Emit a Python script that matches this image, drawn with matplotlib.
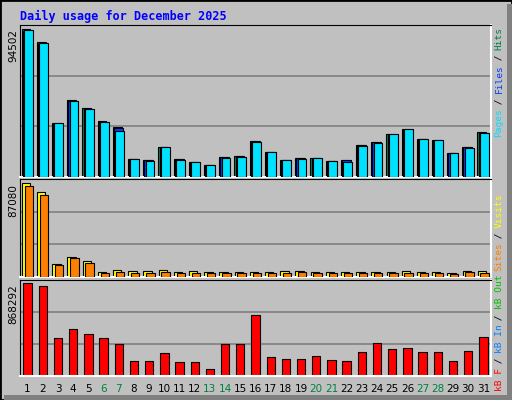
import matplotlib
matplotlib.use("Agg")
import matplotlib.pyplot as plt
import numpy as np
from matplotlib.patches import Rectangle

days = list(range(1, 32))
weekend = [6, 7, 13, 14, 20, 21, 27, 28]
hits = [94502, 86200, 34500, 49200, 44100, 35800, 32000, 11500, 10900, 19200, 11500, 9600, 7700, 12800, 13400,
        23000, 16000, 10900, 12200, 12200, 10200, 10900, 20500, 22400, 27500, 30700, 24300, 23600, 15300, 19200, 28700]
files = [h * 0.985 for h in hits]
pages = [93800, 85500, 34200, 48500, 43500, 35000, 29500, 11300, 10000, 19000, 10800, 9400, 7500, 12300, 13000,
         22500, 15700, 10700, 11800, 11900, 9900, 9800, 19800, 22000, 27200, 30500, 24000, 23400, 15000, 18500, 28300]
visits = [87080, 78300, 11900, 18700, 15000, 5000, 6500, 5600, 5600, 6500, 4700, 5600, 4700, 4700, 4700,
          4700, 4700, 5600, 5900, 4700, 4700, 4700, 4700, 4700, 4700, 5600, 4700, 4700, 3700, 5600, 5600]
sites = [84200, 75800, 10900, 17500, 12800, 3700, 4700, 3300, 3300, 5000, 3300, 3300, 3300, 3300, 3300,
         3300, 3300, 3300, 4400, 3300, 3300, 3300, 3300, 3300, 3300, 3300, 3300, 3300, 2400, 4400, 3300]
kbytes = [868292, 848400, 354600, 440000, 392700, 354600, 297700, 136400, 136400, 212200, 126700, 126700, 69700,
          297700, 297700, 573400, 174200, 155300, 155300, 183700, 145900, 136400, 221700, 307200, 250300, 259800,
          221700, 221700, 136400, 231200, 364100]

W, H = 512, 400
fig = plt.figure(figsize=(W / 100, H / 100), dpi=100)
fig.patch.set_facecolor("#C0C0C0")

def px(x0, y0, x1, y1):
    return [x0 / W, 1 - y1 / H, (x1 - x0) / W, (y1 - y0) / H]

fig.add_artist(Rectangle((0, 0), 1, 1, transform=fig.transFigure, fill=False, ec="black", lw=2))
fig.add_artist(Rectangle((4 / W, 0), (W - 4) / W, 5 / H, transform=fig.transFigure, fc="#808080", ec="none"))
fig.add_artist(Rectangle(((W - 5) / W, 0), 5 / W, (H - 4) / H, transform=fig.transFigure, fc="#808080", ec="none"))

fig.text(20 / W, 1 - 16 / H, "Daily usage for December 2025", color="#0000FF", fontsize=8.5,
         family="DejaVu Sans Mono", weight="bold", va="center", ha="left")

x = np.arange(1, 32)

def setup(ax, top):
    ax.set_facecolor("#C0C0C0")
    ax.set_xlim(0.5, 31.5)
    ax.set_ylim(0, top)
    for v in (top / 3, 2 * top / 3):
        ax.axhline(v, color="#808080", lw=1.2, zorder=0)
    ax.set_xticks([])
    ax.set_yticks([])
    for s in ("left", "top"):
        ax.spines[s].set_color("black")
    for s in ("right", "bottom"):
        ax.spines[s].set_color("white")
        ax.spines[s].set_linewidth(1.5)

ax1 = fig.add_axes(px(20, 25, 491, 177))
setup(ax1, 97000)
ax1.bar(x - 0.1, hits, 0.58, color="#00805C", ec="black", lw=0.8, zorder=2)
ax1.bar(x - 0.02, files, 0.58, color="#0040FF", ec="black", lw=0.8, zorder=3)
ax1.bar(x + 0.06, pages, 0.58, color="#00E0FF", ec="black", lw=0.8, zorder=4)

ax2 = fig.add_axes(px(20, 179, 491, 277))
setup(ax2, 90800)
ax2.bar(x - 0.1, visits, 0.55, color="#FFFF00", ec="black", lw=0.8, zorder=2)
ax2.bar(x + 0.08, sites, 0.55, color="#FF8000", ec="black", lw=0.8, zorder=3)

ax3 = fig.add_axes(px(20, 280, 491, 376))
setup(ax3, 900000)
ax3.bar(x, kbytes, 0.55, color="#FF0000", ec="black", lw=0.8, zorder=2)

for ypix, lab in [(29, "94502"), (184, "87080"), (284, "868292")]:
    fig.text(13 / W, 1 - ypix / H, lab, rotation=90, fontsize=7.5, ha="center", va="top", color="black")

for d in days:
    xp = 20 + (d - 0.5) * (471 / 31)
    fig.text(xp / W, 1 - 389 / H, str(d), fontsize=7.5, ha="center", va="center",
             color="#008040" if d in weekend else "black")

cw = 5.45
def rlabel(pieces, ystart):
    y = ystart
    for txt, col in pieces:
        fig.text(499 / W, 1 - y / H, txt, rotation=90, fontsize=6.8, family="DejaVu Sans Mono",
                 color=col, ha="center", va="bottom")
        y -= cw * len(txt)

rlabel([("Pages", "#00E0FF"), (" / ", "black"), ("Files", "#0040FF"), (" / ", "black"), ("Hits", "#008040")], 137)
rlabel([("kB F", "#FF0000"), (" / ", "black"), ("kB In", "#0080FF"), (" / ", "black"), ("kB Out", "#00C000"),
        (" ", "black"), ("Sites", "#FF8000"), (" / ", "black"), ("Visits", "#FFFF00")], 391)

fig.savefig("out.png", dpi=100, facecolor=fig.get_facecolor())
